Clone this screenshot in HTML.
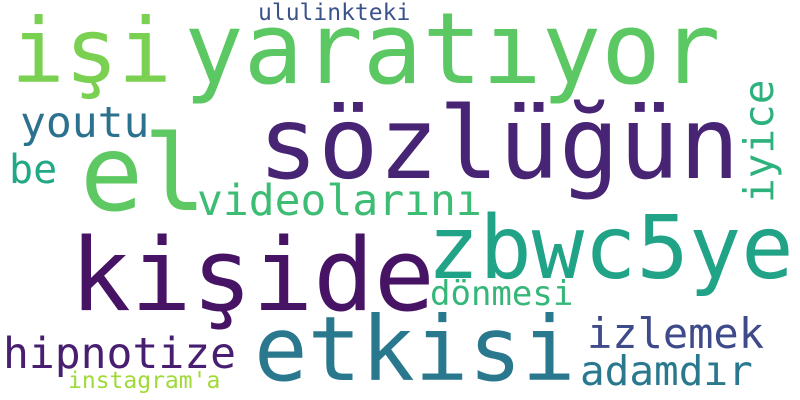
<!DOCTYPE html>
<html><head><meta charset="utf-8"><style>
html,body{margin:0;padding:0;background:#fff;}
svg{display:block;}
text{font-family:"DejaVu Sans Mono","Liberation Mono",monospace;}
</style></head><body>
<svg width="800" height="400" viewBox="0 0 800 400">
<rect width="800" height="400" fill="#fff"/>
<text x="11" y="82" font-size="89" fill="#7ad151">işi</text>
<text x="184" y="83" font-size="99" fill="#5cc863">yaratıyor</text>
<text x="258" y="20" font-size="23" fill="#3b528b">ululinkteki</text>
<text x="20" y="137" font-size="43" fill="#2c728e">youtu</text>
<text x="9" y="183" font-size="40" fill="#22a884">be</text>
<text x="80" y="210" font-size="105" fill="#5ec962">el</text>
<text x="258" y="178" font-size="100" fill="#482475">sözlüğün</text>
<text x="197" y="215" font-size="43" fill="#3dbc74">videolarını</text>
<text transform="translate(773,203) rotate(-90)" font-size="41" fill="#2db27d">iyice</text>
<text x="70" y="310" font-size="101" fill="#471365">kişide</text>
<text x="427" y="278" font-size="87" fill="#20a386">zbwc5ye</text>
<text x="430" y="305" font-size="34" fill="#35b779">dönmesi</text>
<text x="254" y="380" font-size="89" fill="#2a788e">etkisi</text>
<text x="587" y="348" font-size="42" fill="#3e4a89">izlemek</text>
<text x="580" y="385" font-size="41" fill="#2a788e">adamdır</text>
<text x="3" y="368" font-size="43" fill="#481f70">hipnotize</text>
<text x="68" y="388" font-size="23" fill="#a0da39">instagram'a</text>
</svg>
</body></html>
